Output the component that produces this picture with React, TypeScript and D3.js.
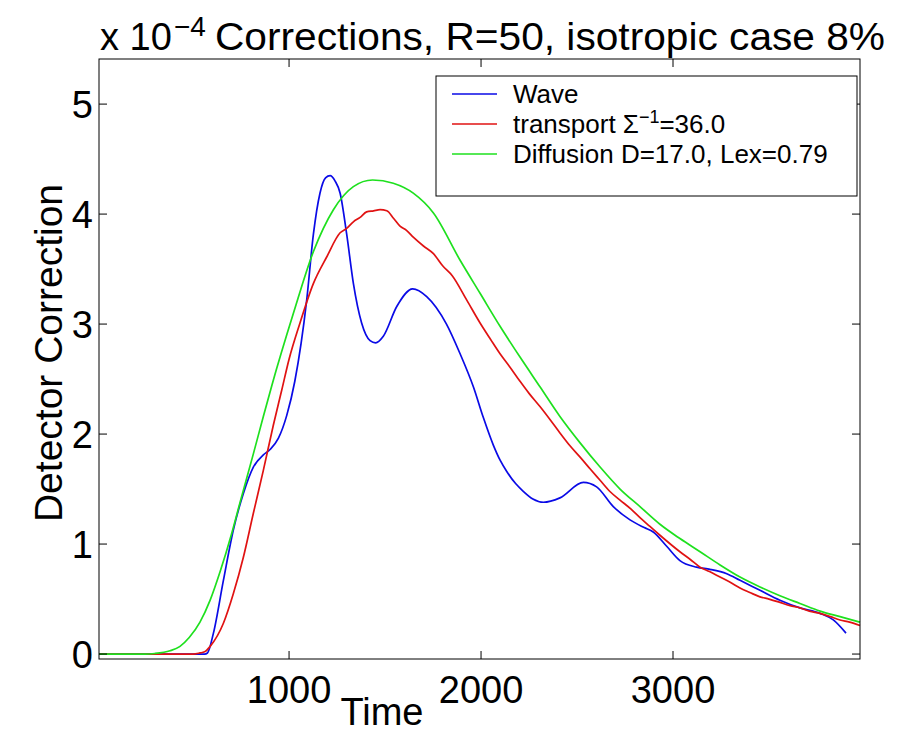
import React from "react";
import * as d3 from "d3";

const waveT = [10, 560, 575, 606, 658, 710, 762, 814, 866, 901, 944, 988, 1030, 1092, 1127, 1161, 1190, 1214, 1240, 1266, 1300, 1335, 1378, 1422, 1451, 1491, 1561, 1644, 1717, 1820, 1891, 1960, 2012, 2064, 2100, 2134, 2180, 2220, 2270, 2325, 2411, 2533, 2602, 2689, 2776, 2850, 2897, 2967, 3036, 3123, 3193, 3280, 3349, 3453, 3557, 3661, 3766, 3835, 3901];
const waveV = [0, 0, 0.01, 0.19, 0.67, 1.13, 1.46, 1.70, 1.81, 1.86, 1.96, 2.17, 2.48, 3.22, 3.82, 4.19, 4.33, 4.35, 4.30, 4.19, 3.82, 3.37, 3.01, 2.85, 2.83, 2.89, 3.16, 3.32, 3.25, 3.00, 2.73, 2.43, 2.15, 1.90, 1.76, 1.66, 1.55, 1.48, 1.41, 1.38, 1.42, 1.56, 1.52, 1.34, 1.22, 1.15, 1.11, 0.98, 0.85, 0.79, 0.77, 0.73, 0.67, 0.58, 0.49, 0.42, 0.37, 0.31, 0.19];

const transportT = [10, 500, 536, 560, 589, 658, 710, 762, 814, 866, 918, 962, 1000, 1057, 1127, 1196, 1266, 1300, 1335, 1370, 1404, 1440, 1474, 1509, 1545, 1578, 1613, 1647, 1700, 1752, 1800, 1850, 1925, 1995, 2050, 2099, 2150, 2203, 2250, 2307, 2360, 2411, 2460, 2516, 2570, 2620, 2670, 2724, 2780, 2828, 2880, 2932, 3036, 3090, 3141, 3190, 3245, 3300, 3349, 3400, 3453, 3500, 3557, 3610, 3661, 3710, 3766, 3820, 3870, 3920, 3974];
const transportV = [0, 0, 0.01, 0.02, 0.07, 0.28, 0.55, 0.88, 1.28, 1.67, 2.08, 2.40, 2.68, 3.01, 3.37, 3.61, 3.83, 3.87, 3.93, 3.97, 4.02, 4.03, 4.04, 4.03, 3.96, 3.89, 3.85, 3.79, 3.71, 3.64, 3.53, 3.44, 3.22, 3.01, 2.86, 2.73, 2.61, 2.48, 2.37, 2.25, 2.13, 2.01, 1.90, 1.79, 1.68, 1.58, 1.48, 1.40, 1.32, 1.24, 1.16, 1.08, 0.93, 0.86, 0.79, 0.75, 0.70, 0.65, 0.60, 0.56, 0.52, 0.50, 0.47, 0.44, 0.42, 0.39, 0.37, 0.34, 0.31, 0.29, 0.26];

const diffusionT = [10, 250, 300, 380, 432, 480, 536, 589, 641, 700, 745, 814, 866, 910, 1023, 1127, 1231, 1335, 1435, 1543, 1647, 1752, 1891, 1995, 2099, 2203, 2307, 2411, 2516, 2620, 2724, 2828, 2932, 3036, 3141, 3245, 3349, 3453, 3557, 3661, 3766, 3870, 3974];
const diffusionV = [0, 0, 0.005, 0.03, 0.07, 0.15, 0.29, 0.49, 0.75, 1.09, 1.38, 1.82, 2.16, 2.44, 3.10, 3.66, 4.04, 4.25, 4.31, 4.28, 4.19, 4.01, 3.58, 3.28, 2.98, 2.70, 2.43, 2.16, 1.92, 1.70, 1.50, 1.34, 1.18, 1.05, 0.93, 0.81, 0.70, 0.61, 0.53, 0.46, 0.39, 0.34, 0.29];

const xTicks = [1000, 2000, 3000];
const yTicks = [0, 1, 2, 3, 4, 5];

const seriesNames = ["Wave", "transport", "Diffusion D=17.0, Lex=0.79"];
const seriesColors = ["#0a0ae6", "#e01212", "#1ee01e"];

const FONT = "'Liberation Sans', Arial, Helvetica, sans-serif";

export default function App() {
  const W = 907, H = 734;
  const left = 99, right = 860, top = 59, bottom = 659;
  const x = d3.scaleLinear().domain([10, 3974]).range([left, right]);
  const y = d3.scaleLinear().domain([-0.045, 5.41]).range([bottom, top]);
  const line = d3
    .line<[number, number]>()
    .x((d) => x(d[0]))
    .y((d) => y(d[1]))
    .curve(d3.curveMonotoneX);

  const series = [
    { t: waveT, v: waveV },
    { t: transportT, v: transportV },
    { t: diffusionT, v: diffusionV },
  ];

  const tickLen = 8;
  const legX = 436, legY = 76, legW = 421, legH = 120;
  const rowY = [94, 124, 154];

  return (
    <svg
      width={W}
      height={H}
      style={{ position: "absolute", left: 0, top: 0, background: "#fff" }}
      fontFamily={FONT}
    >
      <rect x={0} y={0} width={W} height={H} fill="#fff" />
      {/* title */}
      <text x={100} y={50} fontSize={38} fill="#000">x 10</text>
      <text x={174} y={36} fontSize={28} fill="#000">−4</text>
      <text x={215} y={50} fontSize={38} fill="#000" textLength={670} lengthAdjust="spacingAndGlyphs">
        Corrections, R=50, isotropic case 8%
      </text>

      {/* curves */}
      <g>
        {series.map((s, i) => (
          <path
            key={i}
            d={line(s.t.map((t, k) => [t, s.v[k]] as [number, number])) || ""}
            fill="none"
            stroke={seriesColors[i]}
            strokeWidth={1.7}
          />
        ))}
      </g>

      {/* axes box */}
      <rect x={left} y={top} width={right - left} height={bottom - top} fill="none" stroke="#000" strokeWidth={1} />
      {xTicks.map((t) => (
        <g key={"x" + t}>
          <line x1={x(t)} x2={x(t)} y1={bottom} y2={bottom - tickLen} stroke="#000" />
          <line x1={x(t)} x2={x(t)} y1={top} y2={top + tickLen} stroke="#000" />
          <text x={x(t)} y={703} fontSize={38} textAnchor="middle" fill="#000">{t}</text>
        </g>
      ))}
      {yTicks.map((v) => (
        <g key={"y" + v}>
          <line x1={left} x2={left + tickLen} y1={y(v)} y2={y(v)} stroke="#000" />
          <line x1={right} x2={right - tickLen} y1={y(v)} y2={y(v)} stroke="#000" />
          <text x={93} y={y(v) + 14} fontSize={38} textAnchor="end" fill="#000">{v}</text>
        </g>
      ))}
      <text x={382} y={725} fontSize={38} textAnchor="middle" fill="#000">Time</text>
      <text
        transform={`translate(62, 353) rotate(-90)`}
        fontSize={39}
        textAnchor="middle"
        fill="#000"
      >
        Detector Correction
      </text>

      {/* legend */}
      <rect x={legX} y={legY} width={legW} height={legH} fill="#fff" stroke="#000" strokeWidth={1} />
      {seriesNames.map((n, i) => (
        <g key={"l" + i}>
          <line x1={452} x2={497} y1={rowY[i]} y2={rowY[i]} stroke={seriesColors[i]} strokeWidth={1.6} />
          {i === 1 ? (
            <text x={513} y={rowY[i] + 9} fontSize={26} fill="#000">
              transport Σ<tspan dy={-10} fontSize={18}>−1</tspan>
              <tspan dy={10}>=36.0</tspan>
            </text>
          ) : (
            <text x={513} y={rowY[i] + 9} fontSize={26} fill="#000">{n}</text>
          )}
        </g>
      ))}
    </svg>
  );
}
